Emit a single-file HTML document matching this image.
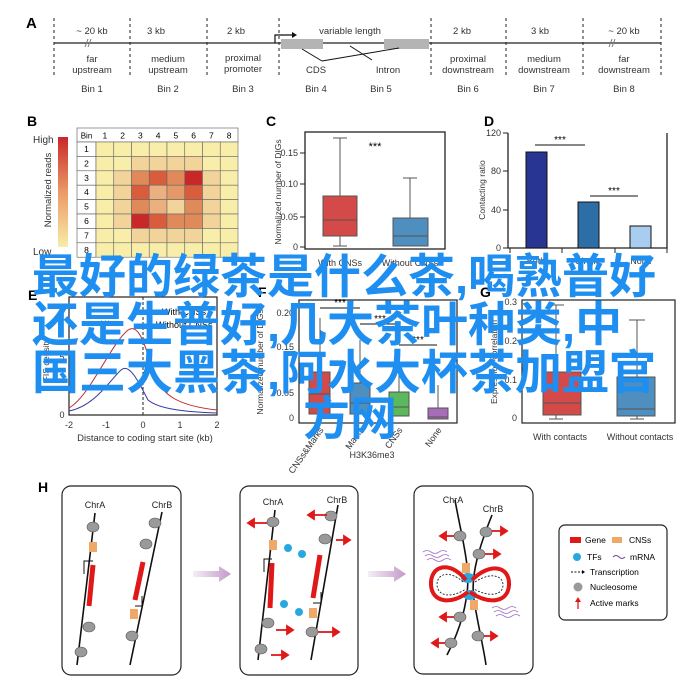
<!DOCTYPE html>
<html><head><meta charset="utf-8"><style>
html,body{margin:0;padding:0;background:#fff;}
#w{position:relative;width:700px;height:693px;overflow:hidden;background:#fff;}
svg{position:absolute;left:0;top:0;}
svg text{font-family:"Liberation Sans",Arial,sans-serif;}
.bt{position:absolute;left:32px;font-family:"Liberation Sans","Noto Sans CJK SC",sans-serif;font-weight:bold;font-size:47px;line-height:48px;color:#1e8ff0;white-space:nowrap;}
</style></head><body><div id="w">
<svg width="700" height="693" viewBox="0 0 700 693">
<defs>
<linearGradient id="cb" x1="0" y1="0" x2="0" y2="1"><stop offset="0" stop-color="#c8282a"/><stop offset="0.5" stop-color="#eb9a66"/><stop offset="1" stop-color="#f8eca8"/></linearGradient>
<linearGradient id="ar" x1="0" y1="0" x2="1" y2="0"><stop offset="0" stop-color="#f4eef6"/><stop offset="1" stop-color="#c39ac8"/></linearGradient>
</defs>
<!-- A -->
<text x="26" y="28" font-size="15" font-weight="bold">A</text>
<g stroke="#222" stroke-dasharray="3,3" stroke-width="1">
<line x1="54" y1="18" x2="54" y2="76"/><line x1="130" y1="18" x2="130" y2="76"/><line x1="207" y1="18" x2="207" y2="76"/><line x1="279" y1="18" x2="279" y2="76"/><line x1="431" y1="18" x2="431" y2="76"/><line x1="506" y1="18" x2="506" y2="76"/><line x1="583" y1="18" x2="583" y2="76"/><line x1="661" y1="18" x2="661" y2="76"/>
</g>
<line x1="54" y1="43" x2="661" y2="43" stroke="#222" stroke-width="1.3"/>
<g stroke="#777" stroke-width="1"><line x1="85" y1="47" x2="88" y2="39"/><line x1="88" y1="47" x2="91" y2="39"/><line x1="609" y1="47" x2="612" y2="39"/><line x1="612" y1="47" x2="615" y2="39"/></g>
<rect x="281" y="39" width="42" height="10" fill="#b4b4b4"/><rect x="384" y="39" width="45" height="10" fill="#b4b4b4"/>
<path d="M275,43 V35 H292" stroke="#111" fill="none" stroke-width="1.2"/><path d="M292,32 L297,35 L292,38Z" fill="#111"/>
<g stroke="#111" stroke-width="1"><line x1="302" y1="49" x2="322" y2="61"/><line x1="399" y1="48" x2="322" y2="61"/><line x1="350" y1="46" x2="372" y2="60"/></g>
<g font-size="9.5" fill="#333" text-anchor="middle">
<text x="92" y="34">~ 20 kb</text><text x="156" y="34">3 kb</text><text x="236" y="34">2 kb</text><text x="350" y="34">variable length</text><text x="462" y="34">2 kb</text><text x="540" y="34">3 kb</text><text x="624" y="34">~ 20 kb</text>
<text x="92" y="62">far</text><text x="92" y="73">upstream</text><text x="168" y="62">medium</text><text x="168" y="73">upstream</text><text x="243" y="61">proximal</text><text x="243" y="72">promoter</text>
<text x="316" y="73">CDS</text><text x="388" y="73">Intron</text>
<text x="468" y="62">proximal</text><text x="468" y="73">downstream</text><text x="544" y="62">medium</text><text x="544" y="73">downstream</text><text x="624" y="62">far</text><text x="624" y="73">downstream</text>
<text x="92" y="92">Bin 1</text><text x="168" y="92">Bin 2</text><text x="243" y="92">Bin 3</text><text x="316" y="92">Bin 4</text><text x="381" y="92">Bin 5</text><text x="468" y="92">Bin 6</text><text x="544" y="92">Bin 7</text><text x="624" y="92">Bin 8</text>
</g>
<!-- B -->
<text x="27" y="126" font-size="14" font-weight="bold">B</text>
<rect x="58" y="137" width="10" height="110" fill="url(#cb)"/>
<text x="33" y="143" font-size="10" fill="#333">High</text><text x="33" y="255" font-size="10" fill="#333">Low</text>
<text transform="translate(51,190) rotate(-90)" font-size="9.5" fill="#333" text-anchor="middle">Normalized reads</text>
<g id="hm"></g>
<!-- C -->
<text x="266" y="126" font-size="14" font-weight="bold">C</text>
<rect x="305" y="132" width="140" height="117" fill="none" stroke="#222" stroke-width="1.3"/>
<g font-size="9" fill="#333" text-anchor="end"><text x="298" y="156">0.15</text><text x="298" y="187">0.10</text><text x="298" y="220">0.05</text><text x="298" y="250">0</text></g>
<g stroke="#222"><line x1="300" y1="153" x2="305" y2="153"/><line x1="300" y1="184" x2="305" y2="184"/><line x1="300" y1="217" x2="305" y2="217"/><line x1="300" y1="247" x2="305" y2="247"/></g>
<text transform="translate(281,192) rotate(-90)" font-size="8.5" fill="#333" text-anchor="middle">Normalized number of DIGs</text>
<g stroke="#555" stroke-width="1"><line x1="340" y1="138" x2="340" y2="196"/><line x1="340" y1="236" x2="340" y2="246"/><line x1="333" y1="138" x2="347" y2="138"/><line x1="333" y1="246" x2="347" y2="246"/>
<line x1="410" y1="178" x2="410" y2="218"/><line x1="403" y1="178" x2="417" y2="178"/></g>
<rect x="323" y="196" width="34" height="40" fill="#d44a48" stroke="#555"/><line x1="323" y1="220" x2="357" y2="220" stroke="#555"/>
<rect x="393" y="218" width="35" height="28" fill="#4f8fbf" stroke="#555"/><line x1="393" y1="236" x2="428" y2="236" stroke="#555"/>
<text x="375" y="150" font-size="11" text-anchor="middle">***</text>
<g font-size="9" fill="#333" text-anchor="middle"><text x="340" y="266">With CNSs</text><text x="410" y="266">Without CNSs</text></g>
<!-- D -->
<text x="484" y="126" font-size="14" font-weight="bold">D</text>
<path d="M508,133 V248 H667 V133" fill="none" stroke="#222" stroke-width="1.3"/>
<g stroke="#222"><line x1="503" y1="133" x2="508" y2="133"/><line x1="503" y1="171" x2="508" y2="171"/><line x1="503" y1="210" x2="508" y2="210"/><line x1="503" y1="248" x2="508" y2="248"/><line x1="510" y1="248" x2="510" y2="253"/><line x1="562" y1="248" x2="562" y2="253"/><line x1="615" y1="248" x2="615" y2="253"/><line x1="667" y1="248" x2="667" y2="253"/></g>
<g font-size="9" fill="#333" text-anchor="end"><text x="501" y="136">120</text><text x="501" y="174">80</text><text x="501" y="213">40</text><text x="501" y="251">0</text></g>
<text transform="translate(485,190) rotate(-90)" font-size="8.5" fill="#333" text-anchor="middle">Contacting ratio</text>
<rect x="526" y="152" width="21" height="96" fill="#283593" stroke="#111"/><rect x="578" y="202" width="21" height="46" fill="#2e6ea6" stroke="#111"/><rect x="630" y="226" width="21" height="22" fill="#a8cdef" stroke="#111"/>
<line x1="535" y1="145" x2="585" y2="145" stroke="#111"/><text x="560" y="143" font-size="10" text-anchor="middle">***</text>
<line x1="590" y1="196" x2="638" y2="196" stroke="#111"/><text x="614" y="194" font-size="10" text-anchor="middle">***</text>
<g font-size="9" fill="#333" text-anchor="middle"><text x="536" y="264">Both</text><text x="588" y="264">Single</text><text x="641" y="264">None</text></g>
<!-- E -->
<text x="28" y="300" font-size="14" font-weight="bold">E</text>
<rect x="69" y="297" width="148" height="118" fill="none" stroke="#222" stroke-width="1.2"/>
<line x1="143" y1="297" x2="143" y2="415" stroke="#222" stroke-dasharray="3,2"/>
<path d="M69,408 C90,396 110,345 128,330 C140,322 146,350 155,375 C162,396 180,406 217,410" fill="none" stroke="#c0282a" stroke-width="1"/>
<path d="M69,411 C95,406 110,380 121,370 C130,362 140,385 148,400 C160,410 190,412 217,413" fill="none" stroke="#3a3aa0" stroke-width="1"/>
<line x1="150" y1="312" x2="160" y2="312" stroke="#c0282a" stroke-width="2"/><text x="162" y="315" font-size="9">With CNSs</text><text x="156" y="328" font-size="9">Without CNSs</text>
<text x="100" y="327" font-size="9">***</text>
<g font-size="9" fill="#333" text-anchor="middle"><text x="69" y="428">-2</text><text x="106" y="428">-1</text><text x="143" y="428">0</text><text x="180" y="428">1</text><text x="217" y="428">2</text><text x="62" y="418">0</text><text x="62" y="360">5</text></g>
<text x="145" y="441" font-size="9.5" fill="#333" text-anchor="middle">Distance to coding start site (kb)</text>
<text transform="translate(49,360) rotate(-90)" font-size="8.5" fill="#333" text-anchor="middle">FIS density</text>
<!-- F -->
<text x="258" y="297" font-size="14" font-weight="bold">F</text>
<rect x="299" y="300" width="158" height="123" fill="none" stroke="#222" stroke-width="1.2"/>
<g font-size="9" fill="#333" text-anchor="end"><text x="294" y="316">0.20</text><text x="294" y="350">0.15</text><text x="294" y="396">0.05</text><text x="294" y="421">0</text></g>
<text transform="translate(263,362) rotate(-90)" font-size="8.5" fill="#333" text-anchor="middle">Normalized number of DIGs</text>
<g stroke="#555"><line x1="320" y1="318" x2="320" y2="372"/><line x1="360" y1="340" x2="360" y2="383"/><line x1="399" y1="355" x2="399" y2="392"/><line x1="438" y1="385" x2="438" y2="408"/></g>
<rect x="309" y="372" width="21" height="42" fill="#d44a48" stroke="#555"/><line x1="309" y1="394" x2="330" y2="394" stroke="#555"/>
<rect x="350" y="383" width="20" height="31" fill="#4f8fbf" stroke="#555"/><line x1="350" y1="403" x2="370" y2="403" stroke="#555"/>
<rect x="389" y="392" width="20" height="24" fill="#5cb85c" stroke="#555"/><line x1="389" y1="407" x2="409" y2="407" stroke="#555"/>
<rect x="428" y="408" width="20" height="11" fill="#a86cb8" stroke="#555"/><line x1="428" y1="417" x2="448" y2="417" stroke="#555"/>
<g stroke="#111"><line x1="320" y1="308" x2="360" y2="308"/><line x1="360" y1="324" x2="399" y2="324"/><line x1="399" y1="345" x2="437" y2="345"/></g>
<g font-size="10" text-anchor="middle"><text x="340" y="306">***</text><text x="380" y="322">***</text><text x="418" y="343">***</text></g>
<g font-size="9" fill="#333" text-anchor="end"><text transform="translate(324,430) rotate(-55)">CNSs&amp;Marks</text><text transform="translate(364,430) rotate(-55)">Marks</text><text transform="translate(403,430) rotate(-55)">CNSs</text><text transform="translate(442,430) rotate(-55)">None</text></g>
<text x="372" y="458" font-size="9" fill="#333" text-anchor="middle">H3K36me3</text>
<!-- G -->
<text x="480" y="297" font-size="14" font-weight="bold">G</text>
<rect x="522" y="300" width="153" height="123" fill="none" stroke="#222" stroke-width="1.2"/>
<g font-size="9" fill="#333" text-anchor="end"><text x="517" y="305">0.3</text><text x="517" y="344">0.2</text><text x="517" y="383">0.1</text><text x="517" y="421">0</text></g>
<text transform="translate(497,362) rotate(-90)" font-size="8.5" fill="#333" text-anchor="middle">Expression correlation</text>
<g stroke="#555"><line x1="556" y1="305" x2="556" y2="372"/><line x1="548" y1="305" x2="564" y2="305"/><line x1="637" y1="320" x2="637" y2="377"/><line x1="629" y1="320" x2="645" y2="320"/><line x1="556" y1="415" x2="556" y2="419"/><line x1="637" y1="416" x2="637" y2="419"/><line x1="549" y1="419" x2="563" y2="419"/><line x1="630" y1="419" x2="644" y2="419"/></g>
<rect x="543" y="372" width="38" height="43" fill="#d44a48" stroke="#555"/><line x1="543" y1="403" x2="581" y2="403" stroke="#555"/>
<rect x="617" y="377" width="38" height="39" fill="#4f8fbf" stroke="#555"/><line x1="617" y1="409" x2="655" y2="409" stroke="#555"/>
<g font-size="9" fill="#333" text-anchor="middle"><text x="560" y="440">With contacts</text><text x="640" y="440">Without contacts</text></g>
<!-- H -->
<text x="38" y="492" font-size="14" font-weight="bold">H</text>
<g fill="none" stroke="#222" stroke-width="1.2"><rect x="62" y="486" width="119" height="189" rx="9"/><rect x="240" y="486" width="118" height="189" rx="9"/><rect x="414" y="486" width="119" height="188" rx="9"/><rect x="559" y="525" width="108" height="95" rx="6"/></g>
<path d="M193,571 H219 V566 L231,574 L219,582 V577 H193Z" fill="url(#ar)"/>
<path d="M368,571 H394 V566 L406,574 L394,582 V577 H368Z" fill="url(#ar)"/>
<g font-size="9" fill="#222" text-anchor="middle"><text x="95" y="508">ChrA</text><text x="162" y="508">ChrB</text><text x="273" y="505">ChrA</text><text x="337" y="503">ChrB</text><text x="453" y="503">ChrA</text><text x="493" y="512">ChrB</text></g>
<g stroke="#111" stroke-width="1.6" fill="none">
<path d="M95,513 L77,665"/><path d="M162,512 L130,665"/>
<path d="M275,510 L258,660"/><path d="M338,505 L311,660"/>
<path d="M455,500 C462,540 472,570 466,600 C462,625 452,645 447,655"/><path d="M492,515 C480,545 470,575 474,600 C478,625 484,650 486,665"/>
</g>
<g stroke="#e01818" stroke-width="5" stroke-linecap="butt"><line x1="93" y1="565" x2="89" y2="606"/><line x1="143" y1="562" x2="135" y2="600"/><line x1="272" y1="563" x2="270" y2="608"/><line x1="320" y1="555" x2="313" y2="598"/></g>
<g fill="#f0a868"><rect x="89" y="542" width="8" height="10"/><rect x="130" y="609" width="8" height="10"/><rect x="269" y="540" width="8" height="10"/><rect x="309" y="608" width="8" height="10"/><rect x="462" y="563" width="8" height="10"/><rect x="470" y="600" width="8" height="10"/></g>
<g fill="#9a9a9a" stroke="#555" stroke-width="0.6" id="nuc">
<ellipse cx="93" cy="527" rx="6" ry="5"/><ellipse cx="89" cy="627" rx="6" ry="5"/><ellipse cx="81" cy="652" rx="6" ry="5"/><ellipse cx="155" cy="523" rx="6" ry="5"/><ellipse cx="146" cy="544" rx="6" ry="5"/><ellipse cx="132" cy="636" rx="6" ry="5"/>
<ellipse cx="273" cy="522" rx="6" ry="5"/><ellipse cx="268" cy="623" rx="6" ry="5"/><ellipse cx="261" cy="649" rx="6" ry="5"/><ellipse cx="331" cy="516" rx="6" ry="5"/><ellipse cx="325" cy="539" rx="6" ry="5"/><ellipse cx="312" cy="632" rx="6" ry="5"/>
<ellipse cx="460" cy="536" rx="6" ry="5"/><ellipse cx="460" cy="617" rx="6" ry="5"/><ellipse cx="451" cy="643" rx="6" ry="5"/><ellipse cx="486" cy="532" rx="6" ry="5"/><ellipse cx="479" cy="554" rx="6" ry="5"/><ellipse cx="478" cy="636" rx="6" ry="5"/>
</g>
<g stroke="#e01818" stroke-width="1.8" fill="#e01818">
<line x1="267" y1="523" x2="253" y2="523"/><path d="M248,523 l6,-4 v8z"/>
<line x1="276" y1="630" x2="288" y2="630"/><path d="M293,630 l-6,-4 v8z"/><line x1="271" y1="655" x2="283" y2="655"/><path d="M288,655 l-6,-4 v8z"/>
<line x1="327" y1="515" x2="313" y2="515"/><path d="M308,515 l6,-4 v8z"/><line x1="336" y1="540" x2="345" y2="540"/><path d="M350,540 l-6,-4 v8z"/><line x1="318" y1="632" x2="334" y2="632"/><path d="M339,632 l-6,-4 v8z"/>
<line x1="454" y1="536" x2="445" y2="536"/><path d="M440,536 l6,-4 v8z"/><line x1="454" y1="617" x2="445" y2="617"/><path d="M440,617 l6,-4 v8z"/><line x1="445" y1="643" x2="437" y2="643"/><path d="M432,643 l6,-4 v8z"/>
<line x1="492" y1="531" x2="502" y2="531"/><path d="M507,531 l-6,-4 v8z"/><line x1="485" y1="554" x2="495" y2="554"/><path d="M500,554 l-6,-4 v8z"/><line x1="484" y1="636" x2="492" y2="636"/><path d="M497,636 l-6,-4 v8z"/>
</g>
<g fill="#29a8e0"><circle cx="288" cy="548" r="4"/><circle cx="302" cy="554" r="4"/><circle cx="284" cy="604" r="4"/><circle cx="299" cy="612" r="4"/><ellipse cx="468" cy="578" rx="7" ry="5"/><ellipse cx="470" cy="595" rx="7" ry="5"/></g>
<g fill="none" stroke="#e01818" stroke-width="4"><path d="M466,580 C450,560 430,565 431,585 C432,603 452,605 468,592"/><path d="M472,580 C490,562 510,566 509,585 C508,603 488,605 470,592"/></g>
<g fill="none" stroke="#222" stroke-width="0.9" stroke-dasharray="2,1.5"><path d="M463,582 C450,570 437,573 437,585 C438,597 452,598 466,589"/><path d="M475,582 C490,572 503,575 503,585 C503,596 488,597 474,589"/></g>
<g fill="none" stroke="#a070c0" stroke-width="0.8"><path d="M423,552 q4,-3 8,0 t8,0 t8,0"/><path d="M425,556 q4,-3 8,0 t8,0 t8,0"/><path d="M427,560 q4,-3 8,0 t8,0 t8,0"/><path d="M492,608 q4,-3 8,0 t8,0 t8,0"/><path d="M494,612 q4,-3 8,0 t8,0 t8,0"/><path d="M496,616 q4,-3 8,0 t8,0 t8,0"/></g>
<g stroke="#111" stroke-width="1" fill="none"><path d="M93,561 H84 V574"/><path d="M272,559 H264 V572"/><path d="M135,606 H142 V596"/><path d="M313,603 H321 V592"/></g>
<!-- legend -->
<rect x="570" y="537" width="11" height="6" fill="#e01818"/><text x="585" y="543" font-size="8.5">Gene</text>
<rect x="612" y="537" width="10" height="6" fill="#f0a868"/><text x="629" y="543" font-size="8.5">CNSs</text>
<circle cx="577" cy="557" r="4" fill="#29a8e0"/><text x="587" y="560" font-size="8.5">TFs</text>
<path d="M613,557 q3,-3 6,0 t6,0" fill="none" stroke="#7040a0"/><text x="630" y="560" font-size="8.5">mRNA</text>
<line x1="571" y1="572" x2="582" y2="572" stroke="#111" stroke-dasharray="2,1.5"/><path d="M582,570 l3,2 l-3,2z"/><text x="590" y="575" font-size="8.5">Transcription</text>
<circle cx="578" cy="587" r="4.5" fill="#9a9a9a"/><text x="590" y="590" font-size="8.5">Nucleosome</text>
<line x1="578" y1="609" x2="578" y2="600" stroke="#e01818" stroke-width="1.3"/><path d="M578,597 l-3,5 h6z" fill="#e01818"/><text x="590" y="606" font-size="8.5">Active marks</text>
</svg>
<div class="bt" style="top:253px">最好的绿茶是什么茶,喝熟普好</div>
<div class="bt" style="top:301px">还是生普好,几大茶叶种类,中</div>
<div class="bt" style="top:349px">国三大黑茶,阿水大杯茶加盟官</div>
<div class="bt" style="top:395px;left:303px">方网</div>
</div>
<script>
(function(){
var P='#f8eeaa',L='#f2d49a',T='#eab080',O='#e08a5a',R='#d95c3c',D='#c82828',Q='#e49a68';
var m=[[P,P,P,P,P,P,P,P],[P,P,L,L,L,L,P,P],[P,L,O,R,O,D,L,P],[P,L,R,T,Q,R,L,P],[P,L,O,T,L,O,L,P],[P,L,D,R,O,O,L,P],[P,P,L,L,L,L,P,P],[P,P,P,P,P,P,P,P]];
var g=document.getElementById('hm'),ns='http://www.w3.org/2000/svg',s='';
var x0=96,cw=17.75,y0=142,rh=14.4;
s+='<rect x="77" y="128" width="161" height="14" fill="#fff" stroke="#555" stroke-width="0.6"/>';
s+='<text x="86.5" y="138.5" font-size="8" text-anchor="middle">Bin</text>';
for(var c=0;c<8;c++)s+='<text x="'+(x0+cw*c+cw/2)+'" y="138.5" font-size="8.5" text-anchor="middle">'+(c+1)+'</text>';
for(var r=0;r<8;r++){var y=y0+rh*r;
s+='<rect x="77" y="'+y+'" width="19" height="'+rh+'" fill="#fff" stroke="#555" stroke-width="0.6"/>';
s+='<text x="86.5" y="'+(y+10)+'" font-size="8.5" text-anchor="middle">'+(r+1)+'</text>';
for(var c=0;c<8;c++)s+='<rect x="'+(x0+cw*c)+'" y="'+y+'" width="'+cw+'" height="'+rh+'" fill="'+m[r][c]+'" stroke="#666" stroke-width="0.6"/>';}
g.innerHTML=s;
})();
</script>
</body></html>
